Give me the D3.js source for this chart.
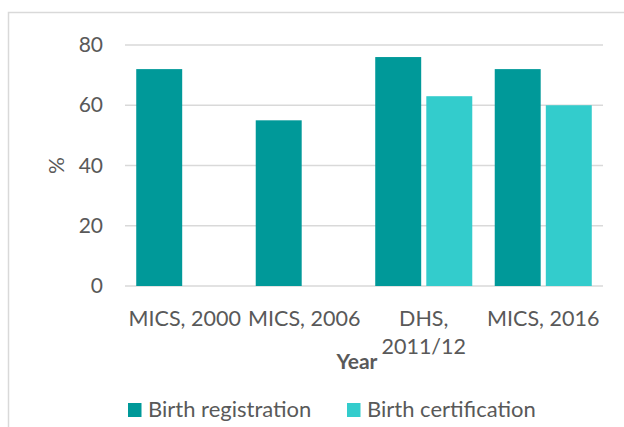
<!DOCTYPE html>
<html>
<head>
<meta charset="utf-8">
<script src="https://cdn.jsdelivr.net/npm/d3@7"></script>
<style>
  body { margin: 0; background: #fff; }
  svg text { font-family: Lato, "Open Sans", sans-serif; fill: #595959; }
</style>
</head>
<body>
<div class="chart"></div>
<script>
// Data
const categories = ['MICS, 2000', 'MICS, 2006', 'DHS, 2011/12', 'MICS, 2016'];
const seriesNames = ['Birth registration', 'Birth certification'];
const registration = [72, 55, 76, 72];
const certification = [null, null, 63, 60];
const yTicks = [0, 20, 40, 60, 80];
const colors = ['#009999', '#33cccc'];

const W = 624, H = 427;
const margin = { top: 45, right: 21, bottom: 141, left: 125 };
const width = W - margin.left - margin.right;
const height = H - margin.top - margin.bottom;

const svg = d3.select('.chart')
    .append('svg')
    .attr('width', W)
    .attr('height', H);

// chart area border
svg.append('rect')
    .attr('x', 8.5).attr('y', 12.5)
    .attr('width', 700).attr('height', 500)
    .attr('fill', 'none')
    .attr('stroke', '#d9d9d9')
    .attr('stroke-width', 1.5);

const g = svg.append('g')
    .attr('transform', `translate(${margin.left},${margin.top})`);

const x0 = d3.scaleBand()
    .domain(categories)
    .range([0, width])
    .padding(0);

const x1 = d3.scaleBand()
    .domain(seriesNames)
    .range([0, x0.bandwidth()])
    .paddingInner(0.1)
    .paddingOuter(0.22);

const y = d3.scaleLinear()
    .domain([0, 80])
    .range([height, 0]);

// gridlines
g.append('g')
    .selectAll('line')
    .data(yTicks)
    .enter()
    .append('line')
    .attr('x1', 0)
    .attr('x2', width)
    .attr('y1', d => y(d))
    .attr('y2', d => y(d))
    .attr('stroke', '#d9d9d9')
    .attr('stroke-width', 1.5);

// y axis labels
const yAxis = g.append('g')
    .call(d3.axisLeft(y).tickValues(yTicks).tickSize(0).tickPadding(22));
yAxis.select('.domain').remove();
yAxis.selectAll('text')
    .style('font-size', '21px')
    .attr('fill', '#595959');

// bars
const rows = categories.map((c, i) => ({
    category: c,
    values: [registration[i], certification[i]]
}));

const groups = g.selectAll('.group')
    .data(rows)
    .enter()
    .append('g')
    .attr('class', 'group')
    .attr('transform', d => `translate(${x0(d.category)},0)`);

groups.selectAll('rect')
    .data(d => d.values.map((v, j) => ({ name: seriesNames[j], value: v, j: j })).filter(e => e.value != null))
    .enter()
    .append('rect')
    .attr('x', d => x1(d.name))
    .attr('y', d => y(d.value))
    .attr('width', x1.bandwidth())
    .attr('height', d => height - y(d.value))
    .attr('fill', d => colors[d.j]);

// x axis labels
const xAxis = g.append('g')
    .attr('transform', `translate(0,${height})`)
    .call(d3.axisBottom(x0).tickSize(0).tickPadding(0));
xAxis.select('.domain').remove();
xAxis.selectAll('text').remove();
xAxis.selectAll('.tick')
    .append('text')
    .attr('text-anchor', 'middle')
    .style('font-size', '21.5px')
    .each(function(d) {
        const t = d3.select(this);
        const lines = d === 'DHS, 2011/12' ? ['DHS,', '2011/12'] : [d];
        lines.forEach((l, i) => {
            t.append('tspan').attr('x', 0).attr('y', 40 + i * 28).text(l);
        });
    });

// axis titles
g.append('text')
    .attr('text-anchor', 'middle')
    .attr('x', 232)
    .attr('y', height + 83)
    .style('font-size', '21px')
    .style('font-weight', 'bold')
    .text('Year');

g.append('text')
    .attr('text-anchor', 'middle')
    .attr('transform', `translate(-68,${y(40)}) rotate(-90)`)
    .attr('dy', '0.35em')
    .style('font-size', '21px')
    .text('%');

// legend
const legend = svg.append('g')
    .attr('transform', 'translate(128,403)');
const legendX = [0, 219];
seriesNames.forEach((name, i) => {
    const item = legend.append('g').attr('transform', `translate(${legendX[i]},0)`);
    item.append('rect')
        .attr('width', 13.5).attr('height', 14)
        .attr('fill', colors[i]);
    item.append('text')
        .attr('x', 20)
        .attr('y', 14)
        .style('font-size', '22px')
        .text(name);
});
</script>
</body>
</html>
